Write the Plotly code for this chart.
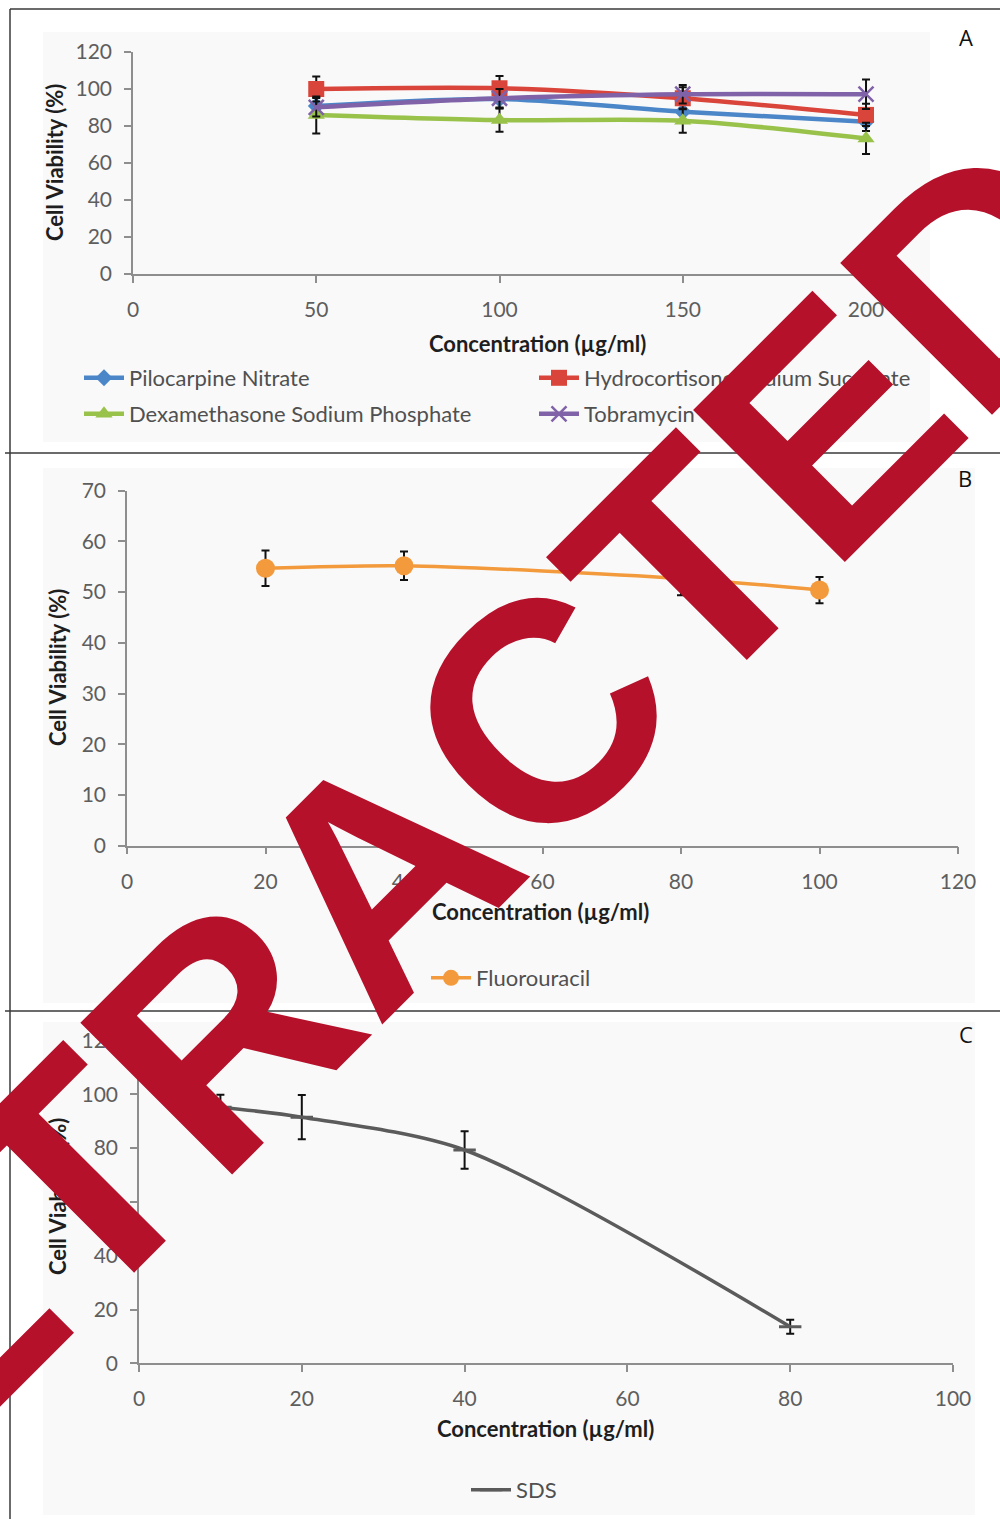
import plotly.graph_objects as go

W, H = 1000, 1519

# ---------------- data ----------------
conc_a = [50, 100, 150, 200]
pilocarpine = [90.8, 94.6, 87.7, 82.3]
pilocarpine_err = [5, 5, 5, 5]
hydrocortisone = [100.0, 100.4, 95.0, 86.0]
hydrocortisone_err = [6.7, 6.6, 6, 6]
dexamethasone = [86.0, 83.2, 82.9, 73.3]
dexamethasone_err = [10, 6.3, 6.6, 8.5]
tobramycin = [90.1, 95.0, 97.2, 97.2]
tobramycin_err = [5, 5, 5, 8]

conc_b = [20, 40, 80, 100]
fluorouracil = [54.7, 55.2, 52.7, 50.4]
fluorouracil_err = [3.5, 2.8, 3.3, 2.6]

conc_c = [10, 20, 40, 80]
sds = [95.2, 91.5, 79.3, 13.6]
sds_err = [4.6, 8.2, 7.0, 2.6]

ticks_a_x = [0, 50, 100, 150, 200]
ticks_a_y = [0, 20, 40, 60, 80, 100, 120]
ticks_b_x = [0, 20, 40, 60, 80, 100, 120]
ticks_b_y = [0, 10, 20, 30, 40, 50, 60, 70]
ticks_c_x = [0, 20, 40, 60, 80, 100]
ticks_c_y = [0, 20, 40, 60, 80, 100, 120]

x_title = "Concentration (µg/ml)"
y_title = "Cell Viability (%)"


def px(x):
    return x / W


def py(y):
    return 1 - y / H


TICKFONT = dict(family="Lato, Open Sans, sans-serif", size=21, color="#5e5e5e")
AXCOL = "#8e8e8e"


def err(arr):
    return dict(type="data", array=arr, visible=True, color="#111111", thickness=2, width=4)


fig = go.Figure()

# ---- Panel A ----
series_a = [
    ("Pilocarpine Nitrate", pilocarpine, pilocarpine_err, "#4a86c8", "diamond", 13, "legend"),
    ("Hydrocortisone Sodium Succinate", hydrocortisone, hydrocortisone_err, "#d9453a", "square", 16, "legend"),
    ("Dexamethasone Sodium Phosphate", dexamethasone, dexamethasone_err, "#98c24a", "triangle-up", 15, "legend4"),
    ("Tobramycin", tobramycin, tobramycin_err, "#8062a8", "x-thin", 15, "legend4"),
]
for name, vals, e, col, sym, sz, leg in series_a:
    marker = dict(symbol=sym, size=sz, color=col)
    if sym == "x-thin":
        marker["line"] = dict(color=col, width=2.5)
    fig.add_trace(go.Scatter(
        x=conc_a, y=vals, name=name, mode="lines+markers",
        line=dict(color=col, width=4.5, shape="spline", smoothing=0.8),
        marker=marker, error_y=err(e), xaxis="x", yaxis="y", legend=leg,
    ))

# ---- Panel B ----
fig.add_trace(go.Scatter(
    x=conc_b, y=fluorouracil, name="Fluorouracil", mode="lines+markers",
    line=dict(color="#f29a3c", width=3.5, shape="spline", smoothing=0.8),
    marker=dict(symbol="circle", size=19, color="#f29a3c"),
    error_y=err(fluorouracil_err), xaxis="x2", yaxis="y2", legend="legend2",
))

# ---- Panel C ----
fig.add_trace(go.Scatter(
    x=conc_c, y=sds, name="SDS", mode="lines+markers",
    line=dict(color="#5b5b5b", width=3.5, shape="spline", smoothing=0.8),
    marker=dict(symbol="line-ew", size=16, color="#5b5b5b", line=dict(color="#5b5b5b", width=3)),
    error_y=err(sds_err), xaxis="x3", yaxis="y3", legend="legend3",
))


def xax(domain, rng, ticks, anchor):
    return dict(domain=domain, range=rng, tickvals=ticks, anchor=anchor,
                showline=True, linecolor=AXCOL, linewidth=1.5, ticks="outside",
                ticklen=7, tickcolor=AXCOL, tickwidth=1.5, showgrid=False, zeroline=False,
                tickfont=TICKFONT, ticklabelstandoff=9, fixedrange=True, automargin=False)


def yax(domain, rng, ticks, anchor):
    return dict(domain=domain, range=rng, tickvals=ticks, anchor=anchor,
                showline=True, linecolor=AXCOL, linewidth=1.5, ticks="outside",
                ticklen=7, tickcolor=AXCOL, tickwidth=1.5, showgrid=False, zeroline=False,
                tickfont=TICKFONT, ticklabelstandoff=8, fixedrange=True, automargin=False)


LEGFONT = dict(family="Lato, Open Sans, sans-serif", size=22, color="#505050")


def leg(x, y, **kw):
    d = dict(orientation="h", x=px(x), y=py(y), xanchor="left", yanchor="middle",
             font=LEGFONT, bgcolor="rgba(0,0,0,0)", itemwidth=40)
    d.update(kw)
    return d


fig.update_layout(
    width=W, height=H,
    margin=dict(l=0, r=0, t=0, b=0, pad=0, autoexpand=False),
    paper_bgcolor="white", plot_bgcolor="rgba(0,0,0,0)",
    xaxis=xax([px(133), px(910)], [0, 212], ticks_a_x, "y"),
    yaxis=yax([py(274), py(52)], [0, 120], ticks_a_y, "x"),
    xaxis2=xax([px(127), px(958)], [0, 120], ticks_b_x, "y2"),
    yaxis2=yax([py(845.6), py(490.7)], [0, 70], ticks_b_y, "x2"),
    xaxis3=xax([px(139), px(953)], [0, 100], ticks_c_x, "y3"),
    yaxis3=yax([py(1363.3), py(1040.5)], [0, 120], ticks_c_y, "x3"),
    legend=leg(79, 378, entrywidth=400, entrywidthmode="pixels"),
    legend4=leg(79, 414, entrywidth=400, entrywidthmode="pixels"),
    legend2=leg(426, 978),
    legend3=leg(466, 1490),
    showlegend=True,
)

# background of the chart images
for (x0, y0, x1, y1) in [(43, 32, 930, 442), (43, 468, 975, 1003), (43, 1022, 975, 1515)]:
    fig.add_shape(type="rect", xref="paper", yref="paper", x0=px(x0), x1=px(x1), y0=py(y0), y1=py(y1),
                  fillcolor="#f9f9f9", line=dict(width=0), layer="below")

# page frame
LINE = dict(color="#3a3a3a", width=1.5)
fig.add_shape(type="line", xref="paper", yref="paper", x0=px(10), x1=1, y0=py(9), y1=py(9), line=LINE)
fig.add_shape(type="line", xref="paper", yref="paper", x0=px(10), x1=px(10), y0=py(9), y1=0, line=LINE)
fig.add_shape(type="line", xref="paper", yref="paper", x0=px(5), x1=1, y0=py(453), y1=py(453), line=LINE)
fig.add_shape(type="line", xref="paper", yref="paper", x0=px(5), x1=1, y0=py(1011), y1=py(1011), line=LINE)

TITLEFONT = dict(family="Lato, Open Sans, sans-serif", size=22, color="#1e1e1e", weight="bold")
YTFONT = dict(family="Lato, Open Sans, sans-serif", size=22, color="#1e1e1e", weight="bold")

for (cx, cy) in [(537, 343), (540, 912), (545, 1428)]:
    fig.add_annotation(xref="paper", yref="paper", x=px(cx), y=py(cy), text=x_title,
                       showarrow=False, font=TITLEFONT, xanchor="center", yanchor="middle")
for (cx, cy) in [(55, 163), (57, 668), (57, 1197)]:
    fig.add_annotation(xref="paper", yref="paper", x=px(cx), y=py(cy), text=y_title,
                       showarrow=False, font=YTFONT, textangle=-90, xanchor="center", yanchor="middle")

for lab, (cx, cy) in [("A", (966, 37)), ("B", (965, 478)), ("C", (966, 1034))]:
    fig.add_annotation(xref="paper", yref="paper", x=px(cx), y=py(cy), text=lab, showarrow=False,
                       font=dict(family="Open Sans, sans-serif", size=22, color="#111111"),
                       xanchor="center", yanchor="middle")

# retraction watermark
fig.add_annotation(xref="paper", yref="paper", x=px(380), y=py(874), text="RETRACTED", showarrow=False,
                   textangle=-45, xanchor="center", yanchor="middle",
                   font=dict(family="Liberation Sans, Arial, sans-serif", size=312, color="#b5112b",
                             weight="bold"))

fig.write_html("out.html", config={"displayModeBar": False},
               post_script="document.body.style.margin='0';document.body.style.overflow='hidden';")
